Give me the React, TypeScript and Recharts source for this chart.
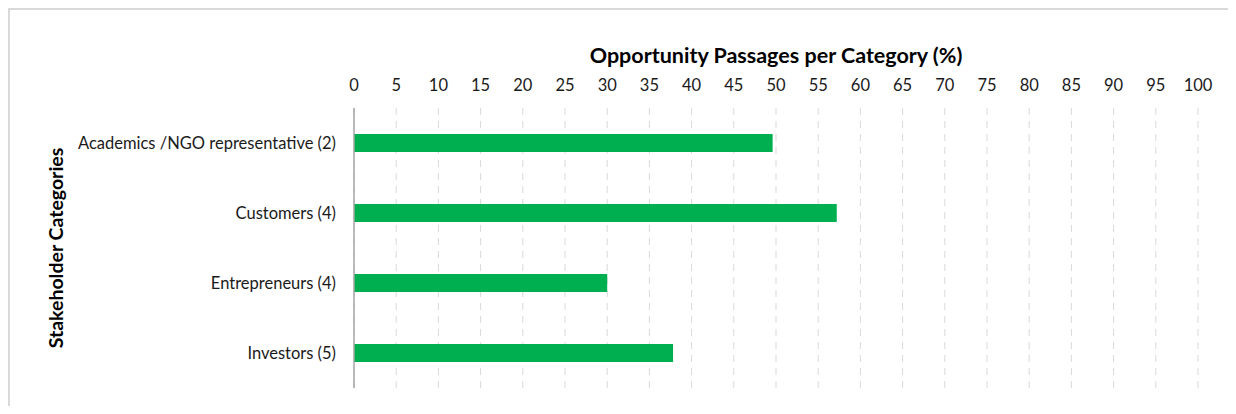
import React from 'react';
import { BarChart, Bar, XAxis, YAxis, CartesianGrid } from 'recharts';

const categories = [
  'Academics /NGO representative (2)',
  'Customers (4)',
  'Entrepreneurs (4)',
  'Investors (5)',
];
const passages = [49.6, 57.2, 30.0, 37.8];
const xTicks = [0, 5, 10, 15, 20, 25, 30, 35, 40, 45, 50, 55, 60, 65, 70, 75, 80, 85, 90, 95, 100];

const data = categories.map((name, i) => ({ name, value: passages[i] }));

const FONT = 'Lato, "Open Sans", sans-serif';

const App: React.FC = () => {
  return (
    <div style={{ position: 'relative', width: 1220, height: 398, fontFamily: FONT }}>
      <BarChart
        width={1220}
        height={398}
        data={data}
        layout="vertical"
        margin={{ top: 40, right: 30, bottom: 18, left: 0 }}
      >
        <CartesianGrid horizontal={false} stroke="#d9d9d9" strokeDasharray="7 6" />
        <XAxis
          type="number"
          orientation="top"
          domain={[0, 100]}
          ticks={xTicks}
          interval={0}
          height={60}
          axisLine={false}
          tickLine={false}
          tickSize={0}
          tickMargin={17}
          tick={{ fill: '#1a1a1a', fontSize: 16.5, fontFamily: FONT }}
          label={{
            content: (props: any) => {
              const vb = props.viewBox || {};
              return (
                <text
                  x={vb.x + vb.width / 2}
                  y={47}
                  textAnchor="middle"
                  dominantBaseline="central"
                  fontWeight="bold"
                  fontSize={21.5}
                  fill="#000"
                  fontFamily={FONT}
                >
                  Opportunity Passages per Category (%)
                </text>
              );
            },
          }}
        />
        <YAxis
          type="category"
          dataKey="name"
          width={346}
          axisLine={{ stroke: '#a6a6a6', strokeWidth: 1.5 }}
          tickLine={false}
          tickSize={0}
          tickMargin={18}
          tick={{ fill: '#1a1a1a', fontSize: 16.5, fontFamily: FONT }}
          label={{
            content: (props: any) => {
              const vb = props.viewBox || {};
              const cy = vb.y + vb.height / 2;
              return (
                <text
                  x={47}
                  y={cy}
                  transform={`rotate(-90 47 ${cy})`}
                  textAnchor="middle"
                  dominantBaseline="central"
                  fontWeight="bold"
                  fontSize={19.5}
                  fill="#000"
                  fontFamily={FONT}
                >
                  Stakeholder Categories
                </text>
              );
            },
          }}
        />
        <Bar dataKey="value" fill="#00b050" barSize={18} isAnimationActive={false} />
      </BarChart>
      {/* frame: top and left edge only, the rest runs off the page */}
      <div style={{ position: 'absolute', left: 0, top: 0, width: 1220, height: 2, background: '#d9d9d9' }} />
      <div style={{ position: 'absolute', left: 0, top: 0, width: 2, height: 398, background: '#d9d9d9' }} />
    </div>
  );
};

export default App;
